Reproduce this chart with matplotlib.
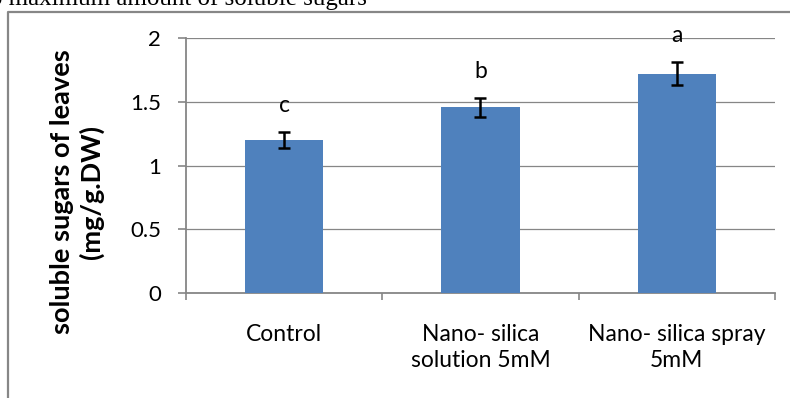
import matplotlib
matplotlib.use("Agg")
import matplotlib.pyplot as plt
from matplotlib.lines import Line2D

# data
categories = ["Control", "Nano- silica\nsolution 5mM", "Nano- silica spray\n5mM"]
sugars = [1.20, 1.455, 1.72]
errors = [0.063, 0.075, 0.09]
letters = ["c", "b", "a"]
yticks = [0, 0.5, 1, 1.5, 2]
ytick_labels = ["0", "0.5", "1", "1.5", "2"]

plt.rcParams["font.family"] = ["Lato", "DejaVu Sans"]
grey = "#868686"
bar_color = "#4F81BD"

W, H = 790, 398
fig = plt.figure(figsize=(W / 100, H / 100), dpi=100)
ax = fig.add_axes([186 / W, 1 - 293 / H, (775 - 186) / W, (293 - 38) / H])

x = list(range(len(categories)))
ax.bar(x, sugars, width=0.4, color=bar_color, zorder=3)
ax.errorbar(x, sugars, yerr=errors, fmt="none", ecolor="black",
            elinewidth=1.8, capsize=4.5, capthick=1.8, zorder=4)

for xi, m, e, lab in zip(x, sugars, errors, letters):
    ax.text(xi, m + e + 0.155, lab, ha="center", va="baseline", fontsize=16.5)

ax.set_xlim(-0.5, 2.5)
ax.set_ylim(0, 2)
ax.set_yticks(yticks)
ax.set_yticklabels(ytick_labels, fontsize=16)
ax.set_xticks(x)
ax.set_xticklabels(categories, fontsize=16.5, linespacing=1.3)
ax.set_xticks([-0.5, 0.5, 1.5, 2.5], minor=True)
ax.tick_params(axis="x", which="major", length=0, pad=22)
ax.tick_params(axis="x", which="minor", length=5, width=1.2, color=grey, direction="out")
ax.tick_params(axis="y", length=6, width=1.2, color=grey, pad=12)

ax.yaxis.grid(True, color=grey, linewidth=0.9, zorder=0)
ax.set_axisbelow(True)
for s in ["top", "right"]:
    ax.spines[s].set_visible(False)
for s in ["left", "bottom"]:
    ax.spines[s].set_color(grey)
    ax.spines[s].set_linewidth(1.3)

fig.text(77 / W, 1 - 192 / H, "soluble sugars of leaves\n(mg/g.DW)", rotation=90,
         ha="center", va="center", fontsize=19.5, fontweight="bold", linespacing=1.25)

# chart frame and the cut-off document line above it
fig.add_artist(Line2D([7.5 / W, 7.5 / W, 1], [0, 1 - 12 / H, 1 - 12 / H],
                      transform=fig.transFigure, color="#878787", linewidth=1.6))
fig.text(367 / W, 1 - 5 / H, "to maximum amount of soluble sugars", ha="right",
         va="baseline", fontsize=18, family="Liberation Serif")

fig.savefig("out.png", dpi=100)
